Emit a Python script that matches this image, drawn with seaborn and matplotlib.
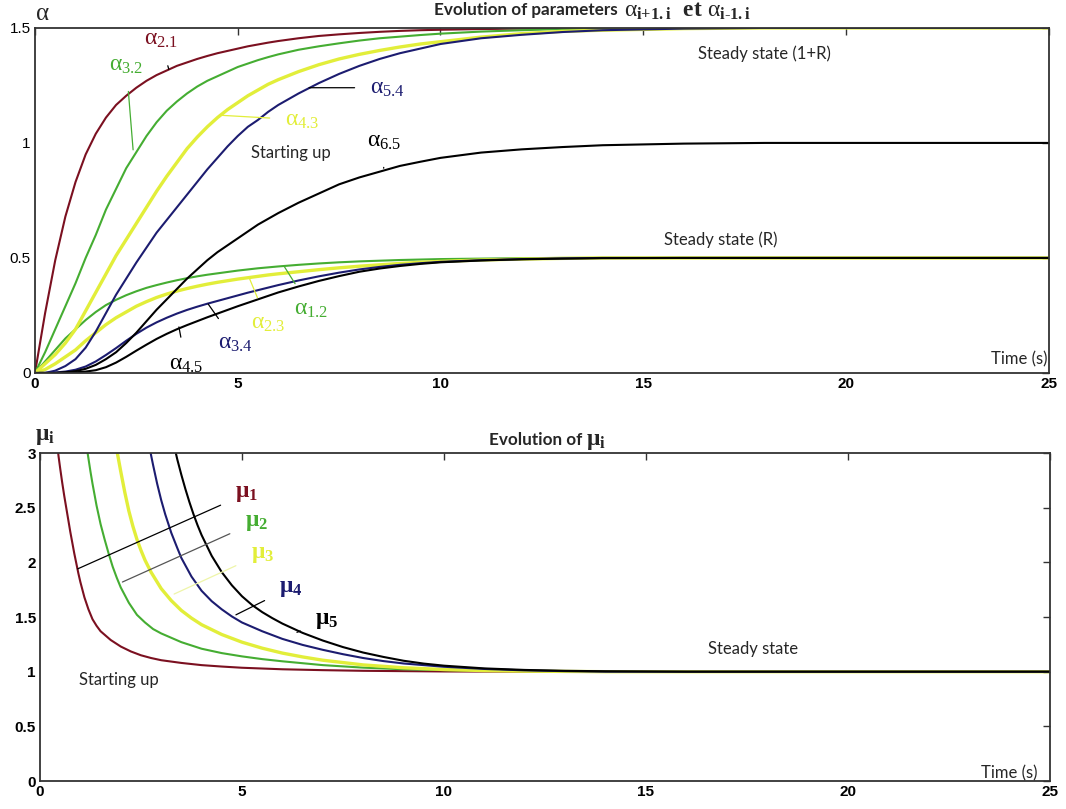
import matplotlib
matplotlib.use("Agg")
import matplotlib.pyplot as plt
import seaborn as sns

# time grid of the alpha curves (s)
t_alpha = [0, 0.25, 0.5, 0.75, 1, 1.25, 1.5, 1.75, 2, 2.25, 2.5, 2.75, 3, 3.25, 3.5, 3.75, 4, 4.25, 4.5, 4.75,
           5, 5.25, 5.5, 5.75, 6, 6.5, 7, 7.5, 8, 8.5, 9, 9.5, 10, 11, 12, 13, 14, 16, 18, 20, 25]

# curves going to 1.5 (1+R)
a21 = [0, 0.26, 0.49, 0.68, 0.83, 0.95, 1.04, 1.11, 1.165, 1.205, 1.24, 1.27, 1.295, 1.315, 1.335, 1.35, 1.365, 1.378, 1.39, 1.40,
       1.41, 1.42, 1.428, 1.436, 1.443, 1.455, 1.465, 1.472, 1.478, 1.483, 1.487, 1.49, 1.492, 1.495, 1.497, 1.499, 1.5, 1.5, 1.5, 1.5, 1.5]
a32 = [0, 0.09, 0.19, 0.29, 0.39, 0.50, 0.60, 0.71, 0.80, 0.89, 0.96, 1.03, 1.09, 1.14, 1.18, 1.215, 1.245, 1.27, 1.29, 1.31,
       1.33, 1.345, 1.36, 1.373, 1.385, 1.405, 1.42, 1.433, 1.445, 1.455, 1.462, 1.469, 1.475, 1.484, 1.49, 1.495, 1.498, 1.5, 1.5, 1.5, 1.5]
a43 = [0, 0.04, 0.08, 0.13, 0.19, 0.27, 0.35, 0.43, 0.51, 0.58, 0.65, 0.72, 0.79, 0.855, 0.915, 0.975, 1.025, 1.07, 1.11, 1.145,
       1.175, 1.205, 1.23, 1.255, 1.275, 1.31, 1.34, 1.365, 1.385, 1.402, 1.417, 1.43, 1.44, 1.46, 1.475, 1.485, 1.49, 1.497, 1.5, 1.5, 1.5]
a54 = [0, 0, 0.01, 0.03, 0.06, 0.11, 0.18, 0.26, 0.34, 0.41, 0.48, 0.545, 0.61, 0.665, 0.72, 0.775, 0.83, 0.885, 0.935, 0.985,
       1.03, 1.07, 1.10, 1.135, 1.165, 1.215, 1.26, 1.30, 1.335, 1.365, 1.39, 1.41, 1.43, 1.455, 1.47, 1.482, 1.49, 1.497, 1.5, 1.5, 1.5]
# curve going to 1
a65 = [0, 0, 0, 0.003, 0.008, 0.018, 0.035, 0.06, 0.09, 0.13, 0.175, 0.225, 0.275, 0.32, 0.365, 0.41, 0.45, 0.49, 0.525, 0.555,
       0.585, 0.615, 0.645, 0.67, 0.695, 0.74, 0.78, 0.82, 0.85, 0.875, 0.90, 0.918, 0.935, 0.958, 0.972, 0.982, 0.99, 0.997, 1.0, 1.0, 1.0]
# curves going to 0.5 (R)
a12 = [0, 0.05, 0.10, 0.15, 0.19, 0.23, 0.265, 0.295, 0.318, 0.338, 0.355, 0.37, 0.382, 0.393, 0.403, 0.412, 0.42, 0.427, 0.433, 0.439,
       0.445, 0.45, 0.455, 0.459, 0.463, 0.47, 0.476, 0.481, 0.485, 0.488, 0.491, 0.493, 0.495, 0.497, 0.499, 0.5, 0.5, 0.5, 0.5, 0.5, 0.5]
a23 = [0, 0.015, 0.04, 0.07, 0.10, 0.14, 0.175, 0.21, 0.24, 0.265, 0.29, 0.31, 0.328, 0.343, 0.356, 0.367, 0.377, 0.386, 0.394, 0.401,
       0.408, 0.414, 0.42, 0.426, 0.431, 0.44, 0.449, 0.457, 0.464, 0.47, 0.476, 0.481, 0.485, 0.491, 0.495, 0.498, 0.5, 0.5, 0.5, 0.5, 0.5]
a34 = [0, 0, 0.002, 0.006, 0.014, 0.028, 0.05, 0.078, 0.108, 0.14, 0.17, 0.197, 0.22, 0.24, 0.258, 0.274, 0.288, 0.301, 0.313, 0.325,
       0.337, 0.349, 0.36, 0.371, 0.382, 0.402, 0.42, 0.436, 0.45, 0.461, 0.47, 0.477, 0.483, 0.49, 0.495, 0.498, 0.5, 0.5, 0.5, 0.5, 0.5]
a45 = [0, 0, 0, 0.001, 0.003, 0.006, 0.012, 0.025, 0.045, 0.07, 0.097, 0.123, 0.148, 0.17, 0.19, 0.208, 0.225, 0.242, 0.258, 0.274,
       0.29, 0.305, 0.32, 0.335, 0.35, 0.376, 0.40, 0.421, 0.44, 0.454, 0.465, 0.474, 0.481, 0.489, 0.494, 0.497, 0.499, 0.5, 0.5, 0.5, 0.5]

# mu curves (each with its own time samples)
t_mu1 = [0.42, 0.46, 0.5, 0.55, 0.6, 0.65, 0.7, 0.75, 0.8, 0.85, 0.9, 0.95, 1.0, 1.1, 1.2, 1.3, 1.4, 1.5, 1.75,
         2.0, 2.25, 2.5, 2.75, 3.0, 3.5, 4, 4.5, 5, 6, 7, 8, 10, 12, 25]
mu1 = [3.1, 2.97, 2.86, 2.73, 2.61, 2.5, 2.39, 2.28, 2.18, 2.08, 1.99, 1.9, 1.82, 1.68, 1.57, 1.48, 1.42, 1.37, 1.29,
       1.23, 1.185, 1.15, 1.125, 1.105, 1.08, 1.06, 1.047, 1.036, 1.022, 1.014, 1.008, 1.002, 1.0, 1.0]
t_mu2 = [1.1, 1.15, 1.2, 1.25, 1.3, 1.35, 1.4, 1.5, 1.6, 1.7, 1.8, 1.9, 2.0, 2.2, 2.4, 2.6, 2.8, 3.0, 3.5,
         4, 4.5, 5, 5.5, 6, 7, 8, 9, 10, 12, 14, 25]
mu2 = [3.2, 3.07, 2.95, 2.83, 2.72, 2.62, 2.52, 2.35, 2.21, 2.08, 1.96, 1.86, 1.77, 1.63, 1.52, 1.45, 1.39, 1.35, 1.27,
       1.21, 1.17, 1.14, 1.115, 1.095, 1.06, 1.037, 1.022, 1.014, 1.005, 1.0, 1.0]
t_mu3 = [1.85, 1.9, 1.95, 2.0, 2.1, 2.2, 2.3, 2.4, 2.5, 2.6, 2.75, 3.0, 3.25, 3.5, 3.75, 4.0, 4.5, 5, 5.5, 6,
         6.5, 7, 8, 9, 10, 11, 12, 14, 25]
mu3 = [3.15, 3.03, 2.93, 2.83, 2.64, 2.47, 2.33, 2.21, 2.11, 2.02, 1.91, 1.76, 1.65, 1.56, 1.49, 1.43, 1.34, 1.27, 1.215, 1.17,
       1.135, 1.105, 1.062, 1.036, 1.02, 1.01, 1.005, 1.0, 1.0]
t_mu4 = [2.65, 2.7, 2.75, 2.8, 2.9, 3.0, 3.1, 3.25, 3.4, 3.5, 3.75, 4.0, 4.25, 4.5, 4.75, 5, 5.5, 6, 6.5, 7,
         7.5, 8, 8.5, 9, 10, 11, 12, 13, 14, 25]
mu4 = [3.18, 3.08, 2.98, 2.89, 2.72, 2.57, 2.44, 2.27, 2.13, 2.04, 1.87, 1.74, 1.645, 1.57, 1.505, 1.45, 1.37, 1.3, 1.245, 1.2,
       1.16, 1.125, 1.097, 1.075, 1.045, 1.025, 1.012, 1.005, 1.0, 1.0]
t_mu5 = [3.3, 3.35, 3.4, 3.5, 3.6, 3.7, 3.8, 3.9, 4.0, 4.25, 4.5, 4.75, 5, 5.25, 5.5, 5.75, 6, 6.5, 7, 7.5,
         8, 8.5, 9, 9.5, 10, 11, 12, 13, 14, 16, 25]
mu5 = [3.1, 3.02, 2.94, 2.8, 2.67, 2.55, 2.44, 2.34, 2.25, 2.06, 1.91, 1.79, 1.69, 1.61, 1.545, 1.49, 1.44, 1.355, 1.285, 1.225,
       1.175, 1.135, 1.1, 1.074, 1.055, 1.03, 1.016, 1.008, 1.004, 1.0, 1.0]

RED = '#7b1020'
GREEN = '#45ad32'
YELLOW = '#e2ee3a'
NAVY = '#1c1c70'
BLACK = '#000000'

sns.set_style('white')
plt.rcParams['font.family'] = ['Liberation Sans', 'DejaVu Sans']
plt.rcParams['mathtext.fontset'] = 'custom'
plt.rcParams['mathtext.rm'] = 'Liberation Serif'
plt.rcParams['mathtext.it'] = 'Liberation Serif'
plt.rcParams['mathtext.bf'] = 'Liberation Serif:bold'

fig = plt.figure(figsize=(10.66, 8.09), dpi=100)
ax1 = fig.add_axes([0.0328, 0.539, 0.951, 0.4265])
ax2 = fig.add_axes([0.0375, 0.0346, 0.9475, 0.4054])

#%% top plot: alpha
for y, c, lw in [(a12, GREEN, 1.5), (a23, YELLOW, 2.4), (a34, NAVY, 1.5), (a45, BLACK, 1.5),
                 (a21, RED, 1.5), (a32, GREEN, 1.5), (a43, YELLOW, 2.4), (a54, NAVY, 1.5), (a65, BLACK, 1.5)]:
    sns.lineplot(x=t_alpha, y=y, color=c, lw=lw, ax=ax1)

ax1.set_xlim(0, 25)
ax1.set_ylim(0, 1.5)
ax1.set_xticks([0, 5, 10, 15, 20, 25])
ax1.set_yticks([0, 0.5, 1, 1.5])
ax1.set_yticklabels(['0', '0.5', '1', '1.5'])

mfs = 17
def lab(ax, txt, xy, xytext, color, lcolor='black'):
    ax.annotate(txt, xy=xy, xytext=xytext, color=color, fontsize=mfs, ha='center', va='center',
                arrowprops=dict(arrowstyle='-', color=lcolor, lw=0.9, shrinkA=9, shrinkB=0))

lab(ax1, r'$\alpha_{2.1}$', (3.3, 1.32), (3.1, 1.45), RED)
lab(ax1, r'$\alpha_{3.2}$', (2.42, 0.97), (2.25, 1.34), GREEN, GREEN)
lab(ax1, r'$\alpha_{4.3}$', (4.6, 1.12), (6.6, 1.10), YELLOW, YELLOW)
lab(ax1, r'$\alpha_{5.4}$', (6.76, 1.24), (8.7, 1.24), NAVY)
lab(ax1, r'$\alpha_{6.5}$', (8.6, 0.89), (8.6, 1.01), BLACK)
lab(ax1, r'$\alpha_{1.2}$', (6.14, 0.465), (6.8, 0.28), GREEN, GREEN)
lab(ax1, r'$\alpha_{2.3}$', (5.28, 0.415), (5.75, 0.215), YELLOW, YELLOW)
lab(ax1, r'$\alpha_{3.4}$', (4.27, 0.30), (4.95, 0.13), NAVY)
lab(ax1, r'$\alpha_{4.5}$', (3.55, 0.20), (3.72, 0.04), BLACK)

tfs = 12
ax1.text(6.31, 0.957, 'Starting up', fontsize=tfs, ha='center', va='center', family='Lato')
ax1.text(18.0, 1.387, 'Steady state (1+R)', fontsize=tfs, ha='center', va='center', family='Lato')
ax1.text(16.9, 0.578, 'Steady state (R)', fontsize=tfs, ha='center', va='center', family='Lato')
ax1.text(24.27, 0.057, 'Time (s)', fontsize=tfs, ha='center', va='center', family='Lato')

# title: bold words, then larger serif symbols right after them
fig.text(618 / 1066, 1 - 10 / 809, 'Evolution of parameters', fontsize=12.3, fontweight='bold',
         family='Lato', ha='right', va='center')
fig.text(624 / 1066, 1 - 11 / 809,
         r'$\alpha_{\mathbf{i{+}1.i}}\ \ \mathbf{et}\ \alpha_{\mathbf{i\text{-}1.i}}$',
         fontsize=17, ha='left', va='center')
fig.text(42 / 1066, 1 - 13 / 809, r'$\alpha$', fontsize=18, ha='center', va='center')

#%% bottom plot: mu
for x, y, c, lw in [(t_mu1, mu1, RED, 1.5), (t_mu2, mu2, GREEN, 1.5), (t_mu3, mu3, YELLOW, 2.4),
                    (t_mu4, mu4, NAVY, 1.5), (t_mu5, mu5, BLACK, 1.5)]:
    sns.lineplot(x=x, y=y, color=c, lw=lw, ax=ax2)

ax2.set_xlim(0, 25)
ax2.set_ylim(0, 3)
ax2.set_xticks([0, 5, 10, 15, 20, 25])
ax2.set_yticks([0, 0.5, 1, 1.5, 2, 2.5, 3])
ax2.set_yticklabels(['0', '0.5', '1', '1.5', '2', '2.5', '3'])

lab(ax2, r'$\mathbf{\mu_1}$', (0.93, 1.94), (5.12, 2.63), RED)
lab(ax2, r'$\mathbf{\mu_2}$', (2.04, 1.82), (5.35, 2.37), GREEN, '#555555')
lab(ax2, r'$\mathbf{\mu_3}$', (3.32, 1.71), (5.5, 2.08), YELLOW, '#eef5a8')
lab(ax2, r'$\mathbf{\mu_4}$', (4.85, 1.52), (6.21, 1.77), NAVY)
lab(ax2, r'$\mathbf{\mu_5}$', (6.36, 1.36), (7.1, 1.47), BLACK)

ax2.text(1.96, 0.92, 'Starting up', fontsize=tfs, ha='center', va='center', family='Lato')
ax2.text(17.64, 1.21, 'Steady state', fontsize=tfs, ha='center', va='center', family='Lato')
ax2.text(24.0, 0.074, 'Time (s)', fontsize=tfs, ha='center', va='center', family='Lato')
fig.text(582 / 1066, 1 - 440 / 809, 'Evolution of', fontsize=12.3, fontweight='bold',
         family='Lato', ha='right', va='center')
fig.text(586 / 1066, 1 - 441 / 809, r'$\mathbf{\mu_i}$', fontsize=17, ha='left', va='center')
fig.text(45 / 1066, 1 - 436 / 809, r'$\mathbf{\mu_i}$', fontsize=17, ha='center', va='center')

for ax in (ax1, ax2):
    ax.set_xlabel('')
    ax.set_ylabel('')
    ax.tick_params(direction='in', top=True, right=True, length=5, width=1, colors='#333333',
                   labelsize=11, pad=3)
    for lbl in ax.get_xticklabels():
        lbl.set_fontweight('bold')
        lbl.set_color('black')
    for lbl in ax.get_yticklabels():
        lbl.set_color('black')
    for s in ax.spines.values():
        s.set_color('#333333')
        s.set_linewidth(1.3)
for lbl in ax2.get_yticklabels():
    lbl.set_fontweight('bold')

fig.savefig('out.png', dpi=100)
